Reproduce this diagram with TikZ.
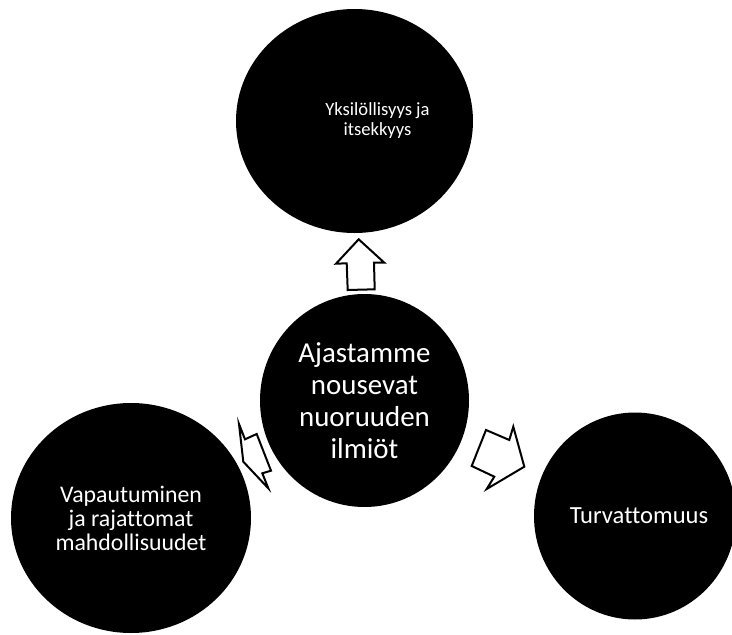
\documentclass[tikz,border=0pt]{standalone}
\usepackage{fontspec}
\setmainfont{Carlito}[Ligatures=NoCommon]
\usetikzlibrary{shapes.geometric}

\begin{document}
\begin{tikzpicture}[x=1pt,y=-1pt,
    bubble/.style={ellipse,fill=black,draw=none,inner sep=0pt},
    bubbletext/.style={text=white,align=center,inner sep=0pt},
    blockarrow/.style={draw=black,fill=white,line width=2pt,line join=miter}]
\useasboundingbox (0,0) rectangle (732,635);
% circles
\node[bubble,minimum width=209pt,minimum height=213pt] (hub) at (364.5,400.5) {};
\node[bubble,minimum width=237pt,minimum height=224pt] (yks) at (354.5,121) {};
\node[bubble,minimum width=240pt,minimum height=230pt] (vap) at (131,518) {};
\node[bubble,minimum width=202pt,minimum height=207pt] (turva) at (635,516) {};
% texts
\node[bubbletext,font=\fontsize{28.9}{32.2}\selectfont] (hubT) at (hub.center) {Ajastamme\\nousevat\\nuoruuden\\ilmiöt};
\node[bubbletext,font=\fontsize{18.6}{20}\selectfont] (yksT) at ([xshift=23pt]yks.center) {Yksilöllisyys ja\\itsekkyys};
\node[bubbletext,font=\fontsize{23.8}{24}\selectfont] (vapT) at (vap.center) {Vapautuminen\\ja rajattomat\\mahdollisuudet};
\node[bubbletext,font=\fontsize{24.6}{27}\selectfont] (turvaT) at ([xshift=4pt]turva.center) {Turvattomuus};
% arrows
\draw[blockarrow] (358.7,239.3) -- (384.3,262.7) -- (374,262.7) -- (374.7,289.3)
    -- (347.7,290) -- (346.7,263.3) -- (336,263.7) -- cycle;
\draw[blockarrow] (486,430) -- (509.3,440) -- (513.3,426.7) -- (524.3,466.7)
    -- (486.7,489) -- (494.3,476.7) -- (471.7,466) -- cycle;
\draw[blockarrow] (239,424) -- (245,439.3) -- (256.7,434) -- (271,470.7)
    -- (262.3,473.3) -- (268.3,488.3) -- (243.3,461.7) -- cycle;
\end{tikzpicture}
\end{document}
